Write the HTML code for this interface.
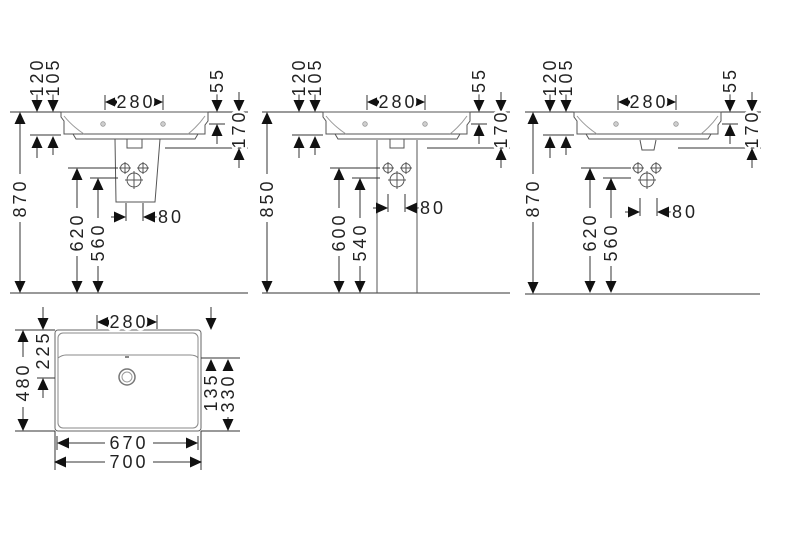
<!DOCTYPE html>
<html><head><meta charset="utf-8"><style>
html,body{margin:0;padding:0;background:#fff;width:800px;height:533px;overflow:hidden}
svg{display:block}
text{font-family:"Liberation Sans",sans-serif;font-size:18px;fill:#222;letter-spacing:3px;stroke:#fff;stroke-width:5px;paint-order:stroke;stroke-linejoin:round}
</style></head><body>
<svg width="800" height="533" viewBox="0 0 800 533" xmlns="http://www.w3.org/2000/svg">
<defs>
<path id="ad" d="M-5.5,-12 L5.5,-12 L0,0Z" fill="#111"/>
<path id="au" d="M-5.5,12 L5.5,12 L0,0Z" fill="#111"/>
<path id="al" d="M12,-5.5 L12,5.5 L0,0Z" fill="#111"/>
<path id="ar" d="M-12,-5.5 L-12,5.5 L0,0Z" fill="#111"/>
<g id="base" stroke="#333" stroke-width="1" fill="none">
  <path d="M207,112 H248"/>
  <path d="M37,92 V102 M53,92 V102 M37,146 V158 M53,146 V155 M30,135 H61"/>
  <use href="#ad" x="37" y="112" stroke="none"/><use href="#ad" x="53" y="112" stroke="none"/>
  <use href="#au" x="37" y="136" stroke="none"/><use href="#au" x="53" y="136" stroke="none"/>
  <path d="M105,95 V110 M163,95 V110"/>
  <use href="#al" x="105" y="102" stroke="none"/><use href="#ar" x="163" y="102" stroke="none"/>
  <path d="M217,92 V102 M239,92 V102"/>
  <use href="#ad" x="217" y="112" stroke="none"/><use href="#ad" x="239" y="112" stroke="none"/>
  <path d="M209,124 H225 M217,134 V144 M165,148 H248 M239,158 V168"/>
  <use href="#au" x="217" y="124" stroke="none"/><use href="#au" x="239" y="148" stroke="none"/>
  <path d="M61,112 H208 V121 L205,125 V134 H64 V121 L61,117Z" stroke="#555"/>
  <path d="M73,134 L76,139 H195 L198,134" stroke="#555"/>
  <path d="M64,116 Q72,126 84,134 M205,116 Q198,126 188,134" stroke="#999"/>
  <circle cx="103" cy="124" r="2.2" stroke="#999"/><circle cx="163" cy="124" r="2.2" stroke="#999"/>
  <path d="M100.8,124 H105.2 M103,121.8 V126.2 M160.8,124 H165.2 M163,121.8 V126.2" stroke="#999" stroke-width=".6"/>
  <path d="M68,168 H118 M90,178 H118 M77,178 V208 M77,256 V283 M98,188 V218 M98,266 V283"/>
  <use href="#au" x="77" y="168" stroke="none"/><use href="#ad" x="77" y="293" stroke="none"/>
  <use href="#au" x="98" y="178" stroke="none"/><use href="#ad" x="98" y="293" stroke="none"/>
</g>
<g id="valves" stroke="#555" stroke-width="1" fill="none">
  <circle cx="0" cy="0" r="4.5"/><circle cx="18" cy="0" r="4.5"/><circle cx="9" cy="12" r="7"/>
  <path d="M-6,0 H6 M0,-6 V6 M12,0 H24 M18,-6 V6 M0,12 H18 M9,3 V21"/>
</g>
<g id="d80" stroke="#333" stroke-width="1" fill="none">
  <path d="M0,-14 V4 M17,-14 V4 M-15,0 H-10 M27,0 H31"/>
  <use href="#ar" x="0" y="0" stroke="none"/><use href="#al" x="17" y="0" stroke="none"/>
</g>
</defs>

<g stroke="#333" stroke-width="1" fill="none">
  <path d="M10,112 H61 M10,293 H248 M20,122 V174 M20,222 V283"/>
  <path d="M115,139 H160 L155,202 H116Z" stroke="#555"/>
  <path d="M127,139 V148 H142 V139" stroke="#555"/>
</g>
<use href="#au" x="20" y="112"/><use href="#ad" x="20" y="293"/>
<use href="#base"/>
<use href="#valves" x="125" y="168"/>
<use href="#d80" x="126" y="217"/>

<g stroke="#333" stroke-width="1" fill="none">
  <path d="M262,112 H323 M262,293 H510 M267,122 V174 M267,222 V283"/>
  <path d="M377,140 V293 M417,140 V293" stroke="#555"/>
  <path d="M390,139 V148 H404 V139" stroke="#555"/>
</g>
<use href="#au" x="267" y="112"/><use href="#ad" x="267" y="293"/>
<use href="#base" x="262"/>
<use href="#valves" x="388" y="168"/>
<use href="#d80" x="388" y="208"/>

<g stroke="#333" stroke-width="1" fill="none">
  <path d="M525,112 H574 M525,294 H760 M533,122 V174 M533,222 V284"/>
  <path d="M640,140 L642,150 H654 L656,140" stroke="#555"/>
</g>
<use href="#au" x="533" y="112"/><use href="#ad" x="533" y="294"/>
<use href="#base" x="513"/>
<use href="#valves" x="638" y="168"/>
<use href="#d80" x="640" y="212"/>

<g stroke="#333" stroke-width="1" fill="none">
  <rect x="55" y="330" width="146" height="101" rx="3" stroke="#666"/>
  <rect x="58" y="333" width="140" height="95" rx="5" stroke="#888"/>
  <path d="M58,358 Q62,355 66,355 H190 Q196,355 198,358" stroke="#888"/>
  <circle cx="127" cy="377" r="8" stroke="#777" stroke-width="1.5"/><circle cx="127" cy="377" r="5" stroke="#999"/>
  <path d="M125,357 H129" stroke="#888" stroke-width="2"/>
  <path d="M43,307 V320 M211,307 V320 M97,315 V329 M157,315 V329"/>
  <path d="M15,330 H55 M15,431 H55 M23,340 V357 M23,407 V421 M43,388 V398 M37,378 H55"/>
  <path d="M201,358 H240 M201,431 H240 M211,369 V370 M228,369 V370 M228,417 V421"/>
  <path d="M55,431 V470 M201,431 V470 M57,436 V450 M198,436 V450 M67,443 H105 M153,443 H188 M64,462 H105 M153,462 H192"/>
</g>
<use href="#ad" x="43" y="330"/><use href="#ad" x="211" y="330"/>
<use href="#al" x="97" y="322"/><use href="#ar" x="157" y="322"/>
<use href="#au" x="23" y="330"/><use href="#ad" x="23" y="431"/>
<use href="#au" x="43" y="378"/>
<use href="#au" x="211" y="359"/><use href="#au" x="228" y="359"/><use href="#ad" x="228" y="431"/>
<use href="#al" x="57" y="443"/><use href="#ar" x="198" y="443"/>
<use href="#al" x="54" y="462"/><use href="#ar" x="202" y="462"/>

<g text-anchor="middle" dominant-baseline="central">
<text x="136" y="102">280</text>
<text x="129" y="322">280</text>
<text x="129" y="443">670</text>
<text x="129" y="462">700</text>
<text x="398" y="102">280</text>
<text x="649" y="102">280</text>
</g>
<g dominant-baseline="central">
<text x="158" y="217">80</text>
<text x="420" y="208">80</text>
<text x="672" y="212">80</text>
</g>
<g text-anchor="middle" dominant-baseline="central">
<text transform="translate(37,77) rotate(-90)">120</text>
<text transform="translate(53,77) rotate(-90)">105</text>
<text transform="translate(217,80) rotate(-90)">55</text>
<text transform="translate(239,129) rotate(-90)">170</text>
<text transform="translate(20,198) rotate(-90)">870</text>
<text transform="translate(77,232) rotate(-90)">620</text>
<text transform="translate(98,242) rotate(-90)">560</text>

<text transform="translate(299,77) rotate(-90)">120</text>
<text transform="translate(315,77) rotate(-90)">105</text>
<text transform="translate(479,80) rotate(-90)">55</text>
<text transform="translate(501,129) rotate(-90)">170</text>
<text transform="translate(267,198) rotate(-90)">850</text>
<text transform="translate(339,232) rotate(-90)">600</text>
<text transform="translate(360,242) rotate(-90)">540</text>

<text transform="translate(550,77) rotate(-90)">120</text>
<text transform="translate(566,77) rotate(-90)">105</text>
<text transform="translate(730,80) rotate(-90)">55</text>
<text transform="translate(752,129) rotate(-90)">170</text>
<text transform="translate(533,198) rotate(-90)">870</text>
<text transform="translate(590,232) rotate(-90)">620</text>
<text transform="translate(611,242) rotate(-90)">560</text>

<text transform="translate(23,382) rotate(-90)">480</text>
<text transform="translate(43,350) rotate(-90)">225</text>
<text transform="translate(211,392) rotate(-90)">135</text>
<text transform="translate(228,393) rotate(-90)">330</text>
</g>
</svg>
</body></html>
